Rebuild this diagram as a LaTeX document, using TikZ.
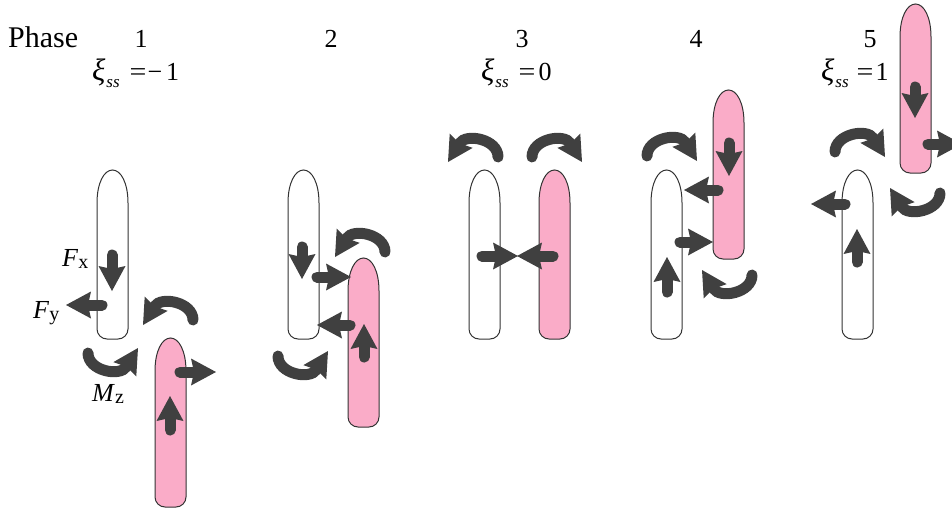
\documentclass[tikz,border=0pt]{standalone}
\usepackage{fontspec}
\setmainfont{Liberation Serif}
\usetikzlibrary{arrows.meta}
\definecolor{arrgray}{HTML}{404040}
\definecolor{pinkfill}{HTML}{FAACC8}
\definecolor{outl}{HTML}{333333}
\newcommand\capsule[3]{%
 \draw[capsulestyle, fill=#3] (#1,#2+33) .. controls (#1,#2+13) and (#1+7,#2) .. (#1+15.5,#2)
  .. controls (#1+24,#2) and (#1+31,#2+13) .. (#1+31,#2+33)
  -- (#1+31,#2+159) .. controls (#1+31,#2+164.5) and (#1+26.5,#2+169) .. (#1+21,#2+169)
  -- (#1+10,#2+169) .. controls (#1+4.5,#2+169) and (#1,#2+164.5) .. (#1,#2+159) -- cycle;}
\newcommand\curvarr[4]{%
 \draw[carrow] ({#1},{#2}) .. controls ({#1},{#2-18*#4}) and ({#1-32*#3},{#2-24*#4}) .. ({#1-50*#3},{#2+5*#4});}
\newcommand\xiss[2]{{\fontsize{31}{31}\selectfont\itshape ξ}\kern1pt\raisebox{-0.3em}{\fontsize{17}{17}\selectfont\itshape ss}\hspace{#2}\scalebox{1.15}[1]{=}#1}
\tikzset{
 capsulestyle/.style={draw=outl, line width=1pt},
 sarrow/.style={draw=arrgray, line width=11pt, line cap=round,
   -{Stealth[length=25pt,width=27pt,inset=3pt,line width=0pt]}},
 carrow/.style={sarrow},
 numlbl/.style={anchor=base, inner sep=0pt, font=\fontsize{26}{26}\selectfont},
 xilbl/.style={anchor=base west, inner sep=0pt, font=\fontsize{26}{26}\selectfont},
 forcelbl/.style={anchor=base west, inner sep=0pt, font=\fontsize{26}{26}\selectfont},
}
\newcommand\sub[1]{\raisebox{-0.1em}{\fontsize{20}{20}\selectfont #1}}
\begin{document}
\begin{tikzpicture}[x=1pt,y=-1pt]
\useasboundingbox (0,0) rectangle (952,511);
\clip (0,0) rectangle (952,511);
% titles
\node[anchor=base west, inner sep=0pt, font=\fontsize{30}{30}\selectfont] (phase) at (8,48) {Phase};
\node[numlbl] (n1) at (141,48) {1};
\node[numlbl] (n2) at (331,48) {2};
\node[numlbl] (n3) at (522,48) {3};
\node[numlbl] (n4) at (696,48) {4};
\node[numlbl] (n5) at (870,48) {5};
\node[xilbl] (xi1) at (92,80) {\xiss{\kern1pt−\kern4pt1}{10pt}};
\node[xilbl] (xi3) at (481,80) {\xiss{\kern3pt0}{10pt}};
\node[xilbl] (xi5) at (821,80) {\xiss{\kern2pt1}{8pt}};
% capsules
\capsule{97}{170}{white}
\capsule{155}{338}{pinkfill}
\capsule{288}{170}{white}
\capsule{348}{258}{pinkfill}
\capsule{469}{170}{white}
\capsule{539}{170}{pinkfill}
\capsule{651}{170}{white}
\capsule{713}{90}{pinkfill}
\capsule{842}{170}{white}
\capsule{900}{4}{pinkfill}
% phase 1
\draw[sarrow] (112,255) -- (112,291);
\draw[sarrow] (102,305) -- (66,305);
\draw[sarrow] (180,372) -- (216,372);
\draw[sarrow] (170,430) -- (170,396);
\curvarr{193}{320}{1}{1}
\curvarr{88}{353}{-1}{-1}
% phase 2
\draw[sarrow] (302,247) -- (302,279);
\draw[sarrow] (317,277) -- (351,277);
\draw[sarrow] (350,325) -- (317,325);
\draw[sarrow] (364,357) -- (364,324);
\curvarr{385}{252}{1}{1}
\curvarr{278}{356}{-1}{-1}
% phase 3
\draw[sarrow] (482,256) -- (518,256);
\draw[sarrow] (553,256) -- (517,256);
\curvarr{498}{157}{1}{1}
\curvarr{532}{157}{-1}{1}
% phase 4
\draw[sarrow] (729,143) -- (729,176);
\draw[sarrow] (718,190) -- (684,190);
\draw[sarrow] (680,242) -- (713,242);
\draw[sarrow] (667,292) -- (667,257);
\curvarr{647}{156}{-1}{1}
\curvarr{752}{275}{1}{-1}
% phase 5
\draw[sarrow] (915,87) -- (915,118);
\draw[sarrow] (928,144) -- (962,144);
\draw[sarrow] (845,204) -- (811,204);
\draw[sarrow] (857,262) -- (857,229);
\curvarr{835}{152}{-1}{1}
\curvarr{940}{193}{1}{-1}
% force labels
\node[forcelbl] (fx) at (62,266) {\textit{F}\sub{x}};
\node[forcelbl] (fy) at (33,318) {\textit{F}\sub{y}};
\node[forcelbl] (mz) at (92,401) {\textit{M}\sub{z}};
\end{tikzpicture}
\end{document}
